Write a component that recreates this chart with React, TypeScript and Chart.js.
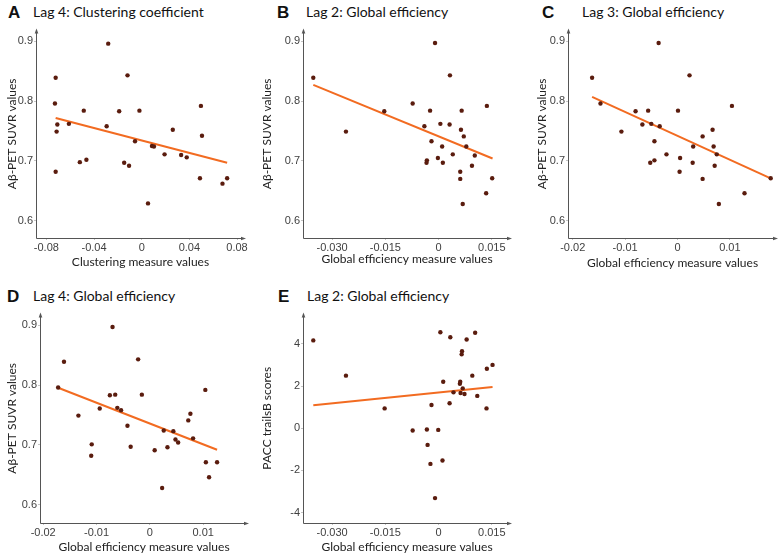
import React, { useEffect, useRef } from 'react';
import { Chart, registerables } from 'chart.js';

Chart.register(...registerables);

// ---------- DATA ----------
const suvrTicks = [0.6, 0.7, 0.8, 0.9];
const traisTicks = [-4, -2, 0, 2, 4];
const clusterTicks = [-0.08, -0.04, 0, 0.04, 0.08];
const lag2Ticks = [-0.03, -0.015, 0, 0.015];
const lag34Ticks = [-0.02, -0.01, 0, 0.01];

// A: Lag 4 clustering coefficient
const aX = [-0.0722, -0.0728, -0.0708, -0.0714, -0.0722, -0.0611, -0.0486, -0.0519, -0.0464, -0.0281, -0.0294, -0.0189, -0.0119, -0.0147, -0.0106, -0.0056, -0.0019, 0.0086, 0.0103, 0.0053, 0.0192, 0.0261, 0.0331, 0.0378, 0.0497, 0.0506, 0.0489, 0.0678, 0.0717];
const aY = [0.839, 0.796, 0.761, 0.749, 0.682, 0.762, 0.784, 0.698, 0.702, 0.896, 0.758, 0.783, 0.843, 0.697, 0.692, 0.733, 0.784, 0.725, 0.724, 0.629, 0.711, 0.752, 0.71, 0.706, 0.792, 0.742, 0.671, 0.662, 0.671];
const aFitX = [-0.0722, 0.0717];
const aFitY = [0.7717, 0.697];

// B: Lag 2 global efficiency
const bX = [-0.0353, -0.0261, -0.0153, -0.0073, -0.001, 0.0032, -0.0024, -0.004, 0.0005, 0.0031, 0.0065, 0.0063, 0.0071, -0.002, 0.001, 0.0078, -0.0033, -0.0034, -0.0002, 0.0012, 0.004, 0.0102, 0.0094, 0.0061, 0.0061, 0.0068, 0.0136, 0.0134, 0.0151];
const bY = [0.839, 0.749, 0.783, 0.796, 0.897, 0.843, 0.784, 0.758, 0.762, 0.761, 0.784, 0.752, 0.741, 0.733, 0.724, 0.724, 0.701, 0.697, 0.705, 0.697, 0.711, 0.709, 0.692, 0.682, 0.67, 0.628, 0.792, 0.646, 0.671];
const bFitX = [-0.0353, 0.0152];
const bFitY = [0.827, 0.704];

// C: Lag 3 global efficiency
const cX = [-0.0163, -0.0147, -0.0107, -0.008, -0.0067, -0.0056, -0.005, -0.0034, -0.0036, -0.0044, -0.0052, -0.0044, -0.0021, 0.0001, 0.0023, 0.0005, 0.0004, 0.003, 0.0029, 0.0048, 0.0048, 0.0067, 0.0069, 0.0075, 0.0071, 0.0079, 0.0104, 0.0128, 0.0178];
const cY = [0.839, 0.796, 0.749, 0.783, 0.761, 0.784, 0.762, 0.758, 0.897, 0.733, 0.697, 0.701, 0.711, 0.784, 0.843, 0.705, 0.682, 0.724, 0.697, 0.741, 0.67, 0.752, 0.724, 0.711, 0.692, 0.628, 0.792, 0.646, 0.671];
const cFitX = [-0.0163, 0.0178];
const cFitY = [0.807, 0.671];

// D: Lag 4 global efficiency
const dX = [-0.0172, -0.0161, -0.0134, -0.0109, -0.011, -0.0094, -0.0075, -0.007, -0.0065, -0.0061, -0.0054, -0.0042, -0.0036, -0.0022, -0.0015, 0.0009, 0.0023, 0.0026, 0.0033, 0.0044, 0.0048, 0.0053, 0.0072, 0.0076, 0.0081, 0.0104, 0.0105, 0.0111, 0.0126];
const dY = [0.796, 0.839, 0.749, 0.701, 0.682, 0.761, 0.783, 0.897, 0.784, 0.762, 0.758, 0.732, 0.697, 0.843, 0.784, 0.691, 0.628, 0.724, 0.696, 0.723, 0.709, 0.704, 0.741, 0.752, 0.711, 0.792, 0.671, 0.646, 0.671];
const dFitX = [-0.0172, 0.0126];
const dFitY = [0.7956, 0.692];

// E: Lag 2 global efficiency vs PACC trailsB
const eX = [-0.0353, -0.0261, -0.0152, -0.0073, -0.002, -0.0033, -0.0031, -0.0023, -0.001, -0.0001, 0.0005, 0.0011, 0.0013, 0.0033, 0.0031, 0.0042, 0.006, 0.0061, 0.0062, 0.0065, 0.0066, 0.0068, 0.0073, 0.0079, 0.0095, 0.0103, 0.0109, 0.0136, 0.0135, 0.0152];
const eY = [4.16, 2.49, 0.94, -0.11, 1.1, -0.06, -0.79, -1.69, -3.31, -0.08, 4.55, -1.53, 2.2, 4.31, 1.18, 1.7, 2.11, 2.2, 1.67, 3.5, 3.65, 1.89, 1.62, 4.2, 2.49, 4.52, 1.53, 2.82, 0.94, 3.0];
const eFitX = [-0.0353, 0.0152];
const eFitY = [1.09, 1.95];

// ---------- STYLE ----------
const POINT = '#5a1c0e';
const FIT = '#f26b21';
const AXIS = '#555555';

const fmt = (d: number) => (v: number) => (v === 0 ? '0' : v.toFixed(d));

const axesPlugin = {
  id: 'arrowAxes',
  beforeDatasetsDraw(chart: any) {
    const { ctx, chartArea } = chart;
    const { left, top, right, bottom } = chartArea;
    const lx = Math.round(left) + 0.5;
    const by = Math.round(bottom) + 0.5;
    ctx.save();
    ctx.strokeStyle = AXIS;
    ctx.fillStyle = AXIS;
    ctx.lineWidth = 1;
    ctx.beginPath();
    ctx.moveTo(lx, top + 2);
    ctx.lineTo(lx, by);
    ctx.lineTo(right - 2, by);
    ctx.stroke();
    ctx.beginPath();
    ctx.moveTo(lx, top - 1);
    ctx.lineTo(lx - 1.8, top + 4);
    ctx.lineTo(lx + 1.8, top + 4);
    ctx.closePath();
    ctx.fill();
    ctx.beginPath();
    ctx.moveTo(right + 1, by);
    ctx.lineTo(right - 4, by - 1.8);
    ctx.lineTo(right - 4, by + 1.8);
    ctx.closePath();
    ctx.fill();
    ctx.restore();
  },
};

type PanelCfg = {
  letter: string;
  title: string;
  xs: number[];
  ys: number[];
  fitX: number[];
  fitY: number[];
  xTicks: number[];
  yTicks: number[];
  xFmt: (v: number) => string;
  yFmt: (v: number) => string;
  xMin: number;
  xMax: number;
  yMin: number;
  yMax: number;
  xTitle: string;
  yTitle: string;
  area: { L: number; T: number; R: number; B: number };
  yTitleX: number;
  xTitleY: number;
  canvasRight: number;
  letterX: number;
  textX: number;
  titleTop: number;
};

const panels: PanelCfg[] = [
  {
    letter: 'A', title: 'Lag 4: Clustering coefficient',
    xs: aX, ys: aY, fitX: aFitX, fitY: aFitY,
    xTicks: clusterTicks, yTicks: suvrTicks, xFmt: fmt(2), yFmt: fmt(1),
    xMin: -0.0887, xMax: 0.0867, yMin: 0.5712, yMax: 0.9195,
    xTitle: 'Clustering measure values', yTitle: 'Aβ-PET SUVR values',
    area: { L: 36, T: 29, R: 245, B: 238 }, yTitleX: 12, xTitleY: 262, canvasRight: 255,
    letterX: 8, textX: 33, titleTop: 3,
  },
  {
    letter: 'B', title: 'Lag 2: Global efficiency',
    xs: bX, ys: bY, fitX: bFitX, fitY: bFitY,
    xTicks: lag2Ticks, yTicks: suvrTicks, xFmt: fmt(3), yFmt: fmt(1),
    xMin: -0.0382, xMax: 0.0204, yMin: 0.5712, yMax: 0.9195,
    xTitle: 'Global efficiency measure values', yTitle: 'Aβ-PET SUVR values',
    area: { L: 303, T: 29, R: 512, B: 238 }, yTitleX: 267, xTitleY: 259, canvasRight: 515,
    letterX: 277, textX: 306, titleTop: 3,
  },
  {
    letter: 'C', title: 'Lag 3: Global efficiency',
    xs: cX, ys: cY, fitX: cFitX, fitY: cFitY,
    xTicks: lag34Ticks, yTicks: suvrTicks, xFmt: fmt(2), yFmt: fmt(1),
    xMin: -0.0209, xMax: 0.019, yMin: 0.5712, yMax: 0.9195,
    xTitle: 'Global efficiency measure values', yTitle: 'Aβ-PET SUVR values',
    area: { L: 568, T: 29, R: 778, B: 238 }, yTitleX: 542, xTitleY: 263, canvasRight: 781,
    letterX: 542, textX: 582, titleTop: 3,
  },
  {
    letter: 'D', title: 'Lag 4: Global efficiency',
    xs: dX, ys: dY, fitX: dFitX, fitY: dFitY,
    xTicks: lag34Ticks, yTicks: suvrTicks, xFmt: fmt(2), yFmt: fmt(1),
    xMin: -0.0206, xMax: 0.0184, yMin: 0.5695, yMax: 0.9195,
    xTitle: 'Global efficiency measure values', yTitle: 'Aβ-PET SUVR values',
    area: { L: 40, T: 313, R: 248, B: 523 }, yTitleX: 12, xTitleY: 547, canvasRight: 255,
    letterX: 7, textX: 33, titleTop: 287,
  },
  {
    letter: 'E', title: 'Lag 2: Global efficiency',
    xs: eX, ys: eY, fitX: eFitX, fitY: eFitY,
    xTicks: lag2Ticks, yTicks: traisTicks, xFmt: fmt(3), yFmt: (v: number) => String(v),
    xMin: -0.0382, xMax: 0.0204, yMin: -4.49, yMax: 5.43,
    xTitle: 'Global efficiency measure values', yTitle: 'PACC trailsB scores',
    area: { L: 303, T: 313, R: 512, B: 523 }, yTitleX: 267, xTitleY: 547, canvasRight: 515,
    letterX: 278, textX: 307, titleTop: 287,
  },
];

const TITLE_FONT = { family: 'Lato', size: 12 };
const TITLE_PAD = 4;

function Panel({ cfg }: { cfg: PanelCfg }) {
  const ref = useRef<HTMLCanvasElement | null>(null);
  const lh = TITLE_FONT.size * 1.2;
  const left = Math.round(cfg.yTitleX - lh / 2 - TITLE_PAD);
  const top = cfg.area.T - 7;
  const bottom = Math.round(cfg.xTitleY + lh / 2 + TITLE_PAD);
  const width = cfg.canvasRight - left;
  const height = bottom - top;

  useEffect(() => {
    if (!ref.current) return;
    const yw = cfg.area.L - left;
    const xh = bottom - cfg.area.B;
    const chart = new Chart(ref.current, {
      type: 'scatter',
      data: {
        datasets: [
          {
            data: cfg.xs.map((x, i) => ({ x, y: cfg.ys[i] })),
            backgroundColor: POINT,
            borderColor: POINT,
            borderWidth: 0,
            pointRadius: 2.2,
          },
          {
            type: 'line',
            data: cfg.fitX.map((x, i) => ({ x, y: cfg.fitY[i] })),
            borderColor: FIT,
            borderWidth: 2,
            pointRadius: 0,
            showLine: true,
            fill: false,
          } as any,
        ],
      },
      options: {
        animation: false,
        responsive: false,
        events: [],
        clip: false as any,
        layout: { padding: { top: cfg.area.T - top, right: left + width - cfg.area.R, left: 0, bottom: 0 } },
        plugins: { legend: { display: false }, tooltip: { enabled: false } },
        scales: {
          x: {
            type: 'linear',
            min: cfg.xMin,
            max: cfg.xMax,
            afterFit: (s: any) => { s.height = xh; },
            afterBuildTicks: (s: any) => { s.ticks = cfg.xTicks.map((v) => ({ value: v })); },
            grid: { display: true, drawOnChartArea: false, drawTicks: true, tickLength: 2, color: '#c4c4c4' },
            border: { display: false },
            ticks: {
              autoSkip: false, maxRotation: 0, padding: 1,
              font: { family: 'Liberation Sans', size: 11 }, color: '#3f3f3f',
              callback: (v: any) => cfg.xFmt(Number(v)),
            },
            title: { display: true, text: cfg.xTitle, font: TITLE_FONT, color: '#222', padding: { top: TITLE_PAD, bottom: TITLE_PAD } },
          },
          y: {
            type: 'linear',
            min: cfg.yMin,
            max: cfg.yMax,
            afterFit: (s: any) => { s.width = yw; },
            afterBuildTicks: (s: any) => { s.ticks = cfg.yTicks.map((v) => ({ value: v })); },
            grid: { display: true, drawOnChartArea: false, drawTicks: true, tickLength: 2, color: '#c4c4c4' },
            border: { display: false },
            ticks: {
              autoSkip: false, padding: 1,
              font: { family: 'Liberation Sans', size: 11 }, color: '#3f3f3f',
              callback: (v: any) => cfg.yFmt(Number(v)),
            },
            title: { display: true, text: cfg.yTitle, font: TITLE_FONT, color: '#222', padding: { top: TITLE_PAD, bottom: TITLE_PAD } },
          },
        },
      },
      plugins: [axesPlugin],
    });
    return () => chart.destroy();
  }, []);

  return (
    <>
      <canvas
        ref={ref}
        width={width}
        height={height}
        style={{ position: 'absolute', left, top, width, height }}
      />
      <div
        style={{
          position: 'absolute', left: cfg.letterX, top: cfg.titleTop + 1,
          font: 'bold 17px "Liberation Sans", Arial, sans-serif', lineHeight: '17px', color: '#111',
        }}
      >
        {cfg.letter}
      </div>
      <div
        style={{
          position: 'absolute', left: cfg.textX, top: cfg.titleTop + 2,
          font: '14px Lato, sans-serif', lineHeight: '14px', color: '#111', whiteSpace: 'nowrap',
        }}
      >
        {cfg.title}
      </div>
    </>
  );
}

export default function App() {
  return (
    <div style={{ position: 'absolute', left: 0, top: 0, width: 781, height: 556, background: '#fff', overflow: 'hidden' }}>
      {panels.map((p) => (
        <Panel key={p.letter} cfg={p} />
      ))}
    </div>
  );
}
